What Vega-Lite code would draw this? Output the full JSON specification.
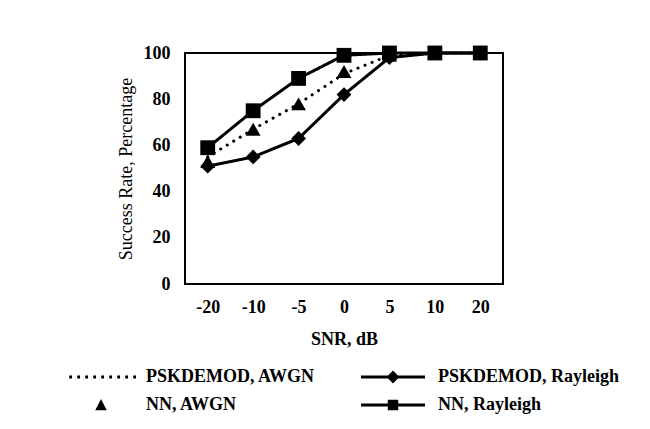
{
  "$schema": "https://vega.github.io/schema/vega-lite/v6.json",
  "autosize": "none",
  "width": 318,
  "height": 231,
  "padding": {"left": 185, "top": 53, "right": 147, "bottom": 145},
  "background": "white",
  "config": {
    "view": {"stroke": "black", "strokeWidth": 2},
    "font": "Liberation Serif"
  },
  "data": {
    "values": [
      {"snr": "-20", "series": "PSKDEMOD, AWGN", "rate": 55},
      {"snr": "-10", "series": "PSKDEMOD, AWGN", "rate": 67},
      {"snr": "-5", "series": "PSKDEMOD, AWGN", "rate": 78},
      {"snr": "0", "series": "PSKDEMOD, AWGN", "rate": 91},
      {"snr": "5", "series": "PSKDEMOD, AWGN", "rate": 99},
      {"snr": "10", "series": "PSKDEMOD, AWGN", "rate": 100},
      {"snr": "20", "series": "PSKDEMOD, AWGN", "rate": 100},
      {"snr": "-20", "series": "PSKDEMOD, Rayleigh", "rate": 51},
      {"snr": "-10", "series": "PSKDEMOD, Rayleigh", "rate": 55},
      {"snr": "-5", "series": "PSKDEMOD, Rayleigh", "rate": 63},
      {"snr": "0", "series": "PSKDEMOD, Rayleigh", "rate": 82},
      {"snr": "5", "series": "PSKDEMOD, Rayleigh", "rate": 98},
      {"snr": "10", "series": "PSKDEMOD, Rayleigh", "rate": 100},
      {"snr": "20", "series": "PSKDEMOD, Rayleigh", "rate": 100},
      {"snr": "-20", "series": "NN, AWGN", "rate": 53},
      {"snr": "-10", "series": "NN, AWGN", "rate": 67},
      {"snr": "-5", "series": "NN, AWGN", "rate": 78},
      {"snr": "0", "series": "NN, AWGN", "rate": 92},
      {"snr": "5", "series": "NN, AWGN", "rate": 99},
      {"snr": "10", "series": "NN, AWGN", "rate": 100},
      {"snr": "20", "series": "NN, AWGN", "rate": 100},
      {"snr": "-20", "series": "NN, Rayleigh", "rate": 59},
      {"snr": "-10", "series": "NN, Rayleigh", "rate": 75},
      {"snr": "-5", "series": "NN, Rayleigh", "rate": 89},
      {"snr": "0", "series": "NN, Rayleigh", "rate": 99},
      {"snr": "5", "series": "NN, Rayleigh", "rate": 100},
      {"snr": "10", "series": "NN, Rayleigh", "rate": 100},
      {"snr": "20", "series": "NN, Rayleigh", "rate": 100}
    ]
  },
  "encoding": {
    "x": {
      "field": "snr",
      "type": "ordinal",
      "sort": ["-20", "-10", "-5", "0", "5", "10", "20"],
      "scale": {"type": "point", "padding": 0.5},
      "axis": {
        "title": "SNR, dB",
        "labelAngle": 0,
        "ticks": false,
        "domain": false,
        "grid": false,
        "labelFont": "Liberation Serif",
        "labelFontSize": 18,
        "labelFontWeight": "bold",
        "labelColor": "black",
        "labelPadding": 14,
        "titleFont": "Liberation Serif",
        "titleFontSize": 18,
        "titleFontWeight": "bold",
        "titleColor": "black",
        "titlePadding": 14
      }
    },
    "y": {
      "field": "rate",
      "type": "quantitative",
      "scale": {"domain": [0, 100], "nice": false},
      "axis": {
        "title": "Success Rate, Percentage",
        "values": [0, 20, 40, 60, 80, 100],
        "ticks": false,
        "domain": false,
        "grid": false,
        "labelFont": "Liberation Serif",
        "labelFontSize": 18,
        "labelFontWeight": "bold",
        "labelColor": "black",
        "labelPadding": 15,
        "titleFont": "Liberation Serif",
        "titleFontSize": 18,
        "titleFontWeight": "normal",
        "titleColor": "black",
        "titlePadding": 8
      }
    }
  },
  "layer": [
    {
      "transform": [{"filter": "datum.series != 'NN, AWGN'"}],
      "mark": {"type": "line", "color": "black", "strokeWidth": 3, "strokeCap": "round"},
      "encoding": {
        "strokeDash": {
          "field": "series",
          "type": "nominal",
          "scale": {
            "domain": ["PSKDEMOD, AWGN", "PSKDEMOD, Rayleigh", "NN, Rayleigh"],
            "range": [[0.1, 7.5], [1, 0], [1, 0]]
          },
          "legend": null
        }
      }
    },
    {
      "transform": [{"filter": "datum.series != 'PSKDEMOD, AWGN'"}],
      "mark": {"type": "point", "filled": true, "color": "black", "opacity": 1, "size": 220},
      "encoding": {
        "shape": {
          "field": "series",
          "type": "nominal",
          "scale": {
            "domain": ["NN, AWGN", "PSKDEMOD, Rayleigh", "NN, Rayleigh"],
            "range": ["triangle-up", "diamond", "square"]
          },
          "legend": null
        }
      }
    },
    {
      "mark": {"type": "point", "filled": true, "color": "black", "opacity": 0},
      "encoding": {
        "shape": {
          "field": "series",
          "type": "nominal",
          "scale": {
            "domain": ["PSKDEMOD, AWGN", "NN, AWGN", "PSKDEMOD, Rayleigh", "NN, Rayleigh"],
            "range": [
              "M-0.98,-0.18h0.36v0.36h-0.36ZM0.02,-0.18h0.36v0.36h-0.36ZM1.02,-0.18h0.36v0.36h-0.36ZM2.02,-0.18h0.36v0.36h-0.36ZM3.02,-0.18h0.36v0.36h-0.36ZM4.02,-0.18h0.36v0.36h-0.36ZM5.02,-0.18h0.36v0.36h-0.36ZM6.02,-0.18h0.36v0.36h-0.36ZM7.02,-0.18h0.36v0.36h-0.36Z",
              "M3,-0.75L3.72,0.65L2.28,0.65Z",
              "M-1,-0.19H7V0.19H-1ZM3,-0.8L3.8,0L3,0.8L2.2,0Z",
              "M-1,-0.19H7V0.19H-1ZM2.35,-0.65H3.65V0.65H2.35Z"
            ]
          },
          "legend": {
            "title": null,
            "orient": "none",
            "legendX": -117,
            "legendY": 315,
            "columns": 2,
            "columnPadding": 44,
            "rowPadding": 10,
            "symbolSize": 256,
            "symbolFillColor": "black",
            "symbolStrokeColor": "black",
            "symbolStrokeWidth": 0,
            "symbolOpacity": 1,
            "labelFont": "Liberation Serif",
            "labelFontSize": 18,
            "labelFontWeight": "bold",
            "labelColor": "black",
            "labelOffset": 60,
            "labelLimit": 400
          }
        }
      }
    }
  ],
  "resolve": {
    "scale": {"shape": "independent", "strokeDash": "independent"},
    "legend": {"shape": "independent"}
  }
}
